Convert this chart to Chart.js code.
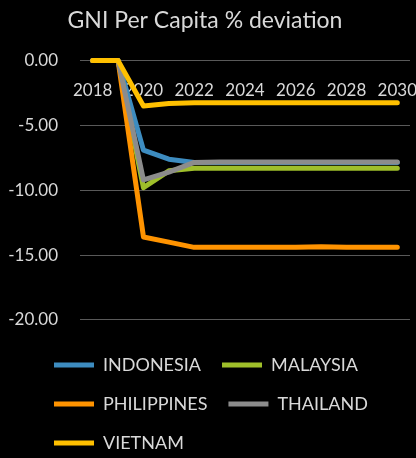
<!DOCTYPE html>
<html>
<head>
<meta charset="utf-8">
<script src="https://cdn.jsdelivr.net/npm/chart.js@4/dist/chart.umd.min.js"></script>
<style>
  html, body { margin: 0; padding: 0; background: #000; }
  canvas { display: block; }
</style>
</head>
<body>
<canvas id="gniChart" width="416" height="458"></canvas>
<script>
const years = ["2018", "2019", "2020", "2021", "2022", "2023", "2024", "2025", "2026", "2027", "2028", "2029", "2030"];
const indonesia = [0, 0, -6.9, -7.6, -7.85, -7.85, -7.85, -7.85, -7.85, -7.85, -7.85, -7.85, -7.85];
const malaysia = [0, 0, -9.8, -8.5, -8.3, -8.3, -8.3, -8.3, -8.3, -8.3, -8.3, -8.3, -8.3];
const philippines = [0, 0, -13.6, -14.0, -14.4, -14.4, -14.4, -14.4, -14.4, -14.35, -14.4, -14.4, -14.4];
const thailand = [0, 0, -9.2, -8.6, -7.85, -7.82, -7.82, -7.82, -7.82, -7.82, -7.82, -7.82, -7.82];
const vietnam = [0, 0, -3.5, -3.3, -3.25, -3.25, -3.25, -3.25, -3.25, -3.25, -3.25, -3.25, -3.25];

const textColor = "#d9d9d9";
const fontFamily = "Lato, 'Open Sans', sans-serif";

function series(label, data, color, order) {
  return {
    label: label,
    data: data,
    borderColor: color,
    backgroundColor: color,
    borderWidth: 5,
    borderCapStyle: "round",
    borderJoinStyle: "round",
    pointRadius: 0,
    tension: 0,
    clip: false,
    order: order,
  };
}

// shift legend rows so they start under the plot like the original
const legendOffset = {
  id: "legendOffset",
  afterLayout(chart) {
    chart.legend.left += 33;
    chart.legend.top += 4;
  },
};

const ctx = document.getElementById("gniChart");
new Chart(ctx, {
  type: "line",
  data: {
    labels: years,
    datasets: [
      series("INDONESIA", indonesia, "#3d8cc0", 5),
      series("MALAYSIA", malaysia, "#9fbf2a", 4),
      series("PHILIPPINES", philippines, "#ff9300", 3),
      series("THAILAND", thailand, "#8c8c8c", 2),
      series("VIETNAM", vietnam, "#ffc000", 1),
    ],
  },
  plugins: [legendOffset],
  options: {
    responsive: false,
    animation: false,
    layout: { padding: { right: 6 } },
    plugins: {
      title: {
        display: true,
        text: "GNI Per Capita % deviation",
        color: textColor,
        font: { family: fontFamily, size: 23, weight: "normal" },
        padding: { top: 7, bottom: 26 },
      },
      legend: {
        position: "bottom",
        align: "start",
        labels: {
          color: textColor,
          font: { family: fontFamily, size: 18 },
          usePointStyle: true,
          pointStyle: "line",
          pointStyleWidth: 40,
          padding: 21,
          sort: (a, b) => a.datasetIndex - b.datasetIndex,
        },
      },
      tooltip: { enabled: false },
    },
    scales: {
      x: {
        position: { y: 0 },
        grid: { display: false },
        border: { display: false },
        offset: true,
        afterFit: function (scale) {
          scale.paddingLeft = 0;
          scale.paddingRight = 0;
        },
        ticks: {
          color: textColor,
          font: { family: fontFamily, size: 17 },
          padding: 12,
          autoSkip: false,
          maxRotation: 0,
          callback: function (val, idx) {
            return idx % 2 === 0 ? this.getLabelForValue(val) : "";
          },
        },
      },
      y: {
        min: -20.85,
        max: 0,
        grid: { color: "#595959", lineWidth: 1, drawTicks: false },
        border: { display: false },
        afterFit: function (scale) {
          scale.width = 80;
        },
        ticks: {
          stepSize: 5,
          includeBounds: false,
          color: textColor,
          font: { family: fontFamily, size: 17 },
          padding: 22,
          callback: (v) => v.toFixed(2),
        },
      },
    },
  },
});
</script>
</body>
</html>
